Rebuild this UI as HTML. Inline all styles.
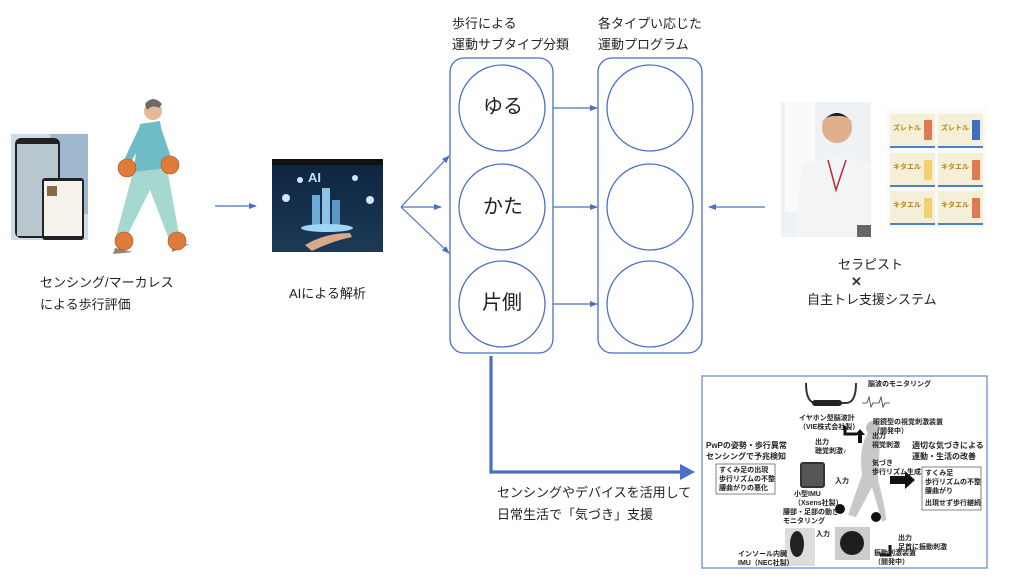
<!DOCTYPE html>
<html><head><meta charset="utf-8"><style>
html,body{margin:0;padding:0;background:#fff;}
body{width:1024px;height:580px;position:relative;overflow:hidden;font-family:"Liberation Sans","Noto Sans CJK JP",sans-serif;color:#222;}
.t{position:absolute;font-size:13px;line-height:22px;white-space:nowrap;}
.s{position:absolute;font-size:7px;line-height:9px;white-space:nowrap;font-weight:bold;color:#222;}
</style></head><body>
<svg width="1024" height="580" style="position:absolute;left:0;top:0">
<defs>
<marker id="a" markerWidth="8" markerHeight="8" refX="7" refY="4" orient="auto" markerUnits="userSpaceOnUse"><path d="M0,1 L8,4 L0,7z" fill="#4a6fc4"/></marker>
<linearGradient id="ai" x1="0" y1="0" x2="0" y2="1"><stop offset="0" stop-color="#0d2440"/><stop offset="1" stop-color="#1c3a56"/></linearGradient>
</defs>
<!-- left phone images -->
<rect x="11" y="134" width="77" height="106" fill="#cfdbe6"/>
<rect x="50" y="134" width="38" height="80" fill="#9fb8cf"/>
<rect x="15" y="138" width="45" height="100" rx="6" fill="#222"/>
<rect x="17" y="144" width="41" height="92" fill="#b8c7cf"/>
<rect x="42" y="178" width="42" height="62" rx="3" fill="#222"/>
<rect x="44" y="181" width="38" height="55" fill="#f4f2ea"/>
<rect x="47" y="186" width="10" height="10" fill="#8a6a40"/>
<!-- walking figure -->
<circle cx="153" cy="111" r="9" fill="#e6b897"/>
<path d="M145,104 q8,-10 17,0 l-3,4 q-6,-4 -12,2z" fill="#6d6a66"/>
<path d="M140,124 L160,121 L168,170 L133,175z" fill="#6ebdc6"/>
<path d="M140,126 L124,160 L131,162 L146,135z" fill="#6ebdc6"/>
<path d="M160,125 L172,160 L166,162 L156,135z" fill="#6ebdc6"/>
<path d="M133,172 L167,168 L180,240 L170,242 L150,190 L125,240 L116,236z" fill="#a6d8d2"/>
<path d="M115,248 l18,4 l-20,2z M172,246 l18,-2 l-18,8z" fill="#8e8478"/>
<circle cx="127" cy="168" r="9" fill="#e07b3c" stroke="#a85520" stroke-width="0.6"/>
<circle cx="170" cy="165" r="9" fill="#e07b3c" stroke="#a85520" stroke-width="0.6"/>
<circle cx="124" cy="241" r="9" fill="#e07b3c" stroke="#a85520" stroke-width="0.6"/>
<circle cx="177" cy="241" r="9" fill="#e07b3c" stroke="#a85520" stroke-width="0.6"/>
<!-- AI image -->
<rect x="272" y="159" width="111" height="93" fill="url(#ai)"/>
<rect x="272" y="159" width="111" height="6" fill="#111"/>
<text x="308" y="182" font-size="13" font-weight="bold" fill="#bfe0ff" font-family="Liberation Sans">AI</text>
<rect x="312" y="195" width="8" height="30" fill="#6fa9d6"/><rect x="322" y="188" width="8" height="37" fill="#8fc2e6"/><rect x="332" y="200" width="8" height="25" fill="#5d95c8"/>
<ellipse cx="327" cy="228" rx="26" ry="4" fill="#9fd4f5"/>
<path d="M305,245 q20,-12 45,-12 l2,4 q-20,4 -40,14z" fill="#d8a888"/>
<circle cx="286" cy="198" r="4" fill="#cfe6f7"/><circle cx="370" cy="200" r="4" fill="#cfe6f7"/><circle cx="300" cy="180" r="3" fill="#cfe6f7"/><circle cx="355" cy="178" r="3" fill="#cfe6f7"/>
<!-- therapist photo -->
<rect x="781" y="102" width="90" height="135" fill="#eef2f4"/>
<rect x="785" y="102" width="30" height="110" fill="#f8fafb"/>
<path d="M795,237 L802,165 Q840,148 870,165 L870,237z" fill="#f2f4f6"/>
<circle cx="837" cy="128" r="15" fill="#e0b08c"/>
<path d="M821,124 q16,-22 32,0 q-5,-9 -16,-8 q-11,-1 -16,8z" fill="#1c1c1c"/>
<path d="M828,160 L836,190 L846,160" stroke="#b52e3a" stroke-width="1.5" fill="none"/>
<rect x="857" y="225" width="14" height="12" fill="#666"/>
<!-- app screenshot -->
<rect x="887" y="108" width="99" height="120" fill="#fafaf6"/>
<g fill="#f6efd8">
<rect x="890" y="114" width="45" height="32"/><rect x="938" y="114" width="45" height="32"/>
<rect x="890" y="153" width="45" height="32"/><rect x="938" y="153" width="45" height="32"/>
<rect x="890" y="191" width="45" height="32"/><rect x="938" y="191" width="45" height="32"/>
</g>
<g fill="#4a80cc"><rect x="890" y="146" width="45" height="2"/><rect x="938" y="146" width="45" height="2"/><rect x="890" y="185" width="45" height="2"/><rect x="938" y="185" width="45" height="2"/><rect x="890" y="223" width="45" height="2"/><rect x="938" y="223" width="45" height="2"/></g>
<g fill="#e07a55"><rect x="924" y="120" width="8" height="20"/><rect x="972" y="120" width="8" height="20" fill="#3d6fc0"/><rect x="924" y="160" width="8" height="20" fill="#f0d070"/><rect x="972" y="160" width="8" height="20"/><rect x="924" y="198" width="8" height="20" fill="#f0d070"/><rect x="972" y="198" width="8" height="20"/></g>
<g fill="#b0841e" font-size="7" font-weight="bold" font-family="Noto Sans CJK JP"><text x="893" y="130">ズレトル</text><text x="941" y="130">ズレトル</text><text x="893" y="169">キタエル</text><text x="941" y="169">キタエル</text><text x="893" y="207">キタエル</text><text x="941" y="207">キタエル</text></g>
<!-- arrows -->
<g stroke="#4a6fc4" stroke-width="1.2" fill="none">
<line x1="215" y1="206" x2="256" y2="206" marker-end="url(#a)"/>
<line x1="401" y1="207" x2="449" y2="156" marker-end="url(#a)"/>
<line x1="401" y1="207" x2="441" y2="207" marker-end="url(#a)"/>
<line x1="401" y1="207" x2="449" y2="253" marker-end="url(#a)"/>
<line x1="553" y1="108" x2="597" y2="108" marker-end="url(#a)"/>
<line x1="553" y1="207" x2="597" y2="207" marker-end="url(#a)"/>
<line x1="553" y1="304" x2="597" y2="304" marker-end="url(#a)"/>
<line x1="765" y1="207" x2="709" y2="207" marker-end="url(#a)"/>
</g>
<g stroke="#4a6fc4" stroke-width="1.3" fill="none">
<rect x="450" y="58" width="103" height="295" rx="14"/>
<rect x="598" y="58" width="104" height="295" rx="14"/>
<circle cx="502" cy="108" r="43"/><circle cx="502" cy="207" r="43"/><circle cx="502" cy="304" r="43"/>
<circle cx="650" cy="108" r="43"/><circle cx="650" cy="207" r="43"/><circle cx="650" cy="304" r="43"/>
</g>
<path d="M491,356 L491,472 L682,472" stroke="#4a6fc4" stroke-width="3.2" fill="none"/>
<path d="M680,464 L695,472 L680,480z" fill="#4a6fc4"/>
<!-- bottom right box -->
<rect x="702" y="376" width="285" height="192" fill="#fff" stroke="#6a8fd6" stroke-width="1.3"/>
<path d="M806,383 q0,20 10,20 l30,0 q10,0 10,-20" stroke="#333" stroke-width="2" fill="none"/>
<rect x="812" y="400" width="30" height="6" rx="3" fill="#222"/>
<path d="M862,403 l5,0 l2,-6 l2,10 l2,-4 l6,0 l2,-6 l2,10 l2,-4 l5,0" stroke="#333" stroke-width="0.8" fill="none"/>
<path d="M870,430 q8,-4 10,10 l-2,40 q8,30 8,40 l-4,2 l-10,-35 l-16,30 l-8,-2 l14,-40 q-4,-30 8,-45z" fill="#c8c8c8"/>
<circle cx="873" cy="428" r="7" fill="#c0c0c0"/>
<circle cx="840" cy="509" r="5" fill="#111"/><circle cx="876" cy="517" r="5" fill="#111"/>
<rect x="800" y="462" width="25" height="26" rx="3" fill="#333"/>
<rect x="802" y="464" width="21" height="22" fill="#555"/>
<rect x="785" y="528" width="30" height="38" fill="#ddd"/>
<ellipse cx="797" cy="544" rx="7" ry="13" fill="#222"/>
<rect x="835" y="527" width="35" height="33" fill="#ccc"/>
<circle cx="852" cy="543" r="12" fill="#1e1e1e"/>
<path d="M890,476 l15,0 l0,-5 l10,9 l-10,9 l0,-5 l-15,0z" fill="#111"/>
<path d="M858,443 l4,0 l0,-8 l3,0 l-5,-6 l-5,6 l3,0z" fill="#111"/>
<path d="M845,426 l0,8 l12,0" stroke="#111" stroke-width="3" fill="none"/>
<path d="M880,555 l10,0 l0,-10" stroke="#111" stroke-width="3" fill="none"/>
<rect x="716" y="464" width="59" height="30" fill="none" stroke="#333" stroke-width="0.6"/>
<rect x="922" y="467" width="59" height="43" fill="none" stroke="#333" stroke-width="0.6"/>
</svg>

<div class="t" style="left:40px;top:272px;">センシング/マーカレス<br>による歩行評価</div>
<div class="t" style="left:289px;top:283px;">AIによる解析</div>
<div class="t" style="left:452px;top:13px;line-height:21px;">歩行による<br>運動サブタイプ分類</div>
<div class="t" style="left:598px;top:13px;line-height:21px;">各タイプい応じた<br>運動プログラム</div>
<div class="t" style="left:483px;top:96px;font-size:20px;">ゆる</div>
<div class="t" style="left:483px;top:196px;font-size:20px;">かた</div>
<div class="t" style="left:482px;top:292px;font-size:20px;">片側</div>
<div class="t" style="left:838px;top:254px;">セラピスト</div>
<div class="t" style="left:851px;top:271px;color:#333;font-weight:bold;">✕</div>
<div class="t" style="left:807px;top:289px;">自主トレ支援システム</div>
<div class="t" style="left:497px;top:482px;line-height:22px;">センシングやデバイスを活用して<br>日常生活で「気づき」支援</div>

<div class="s" style="left:868px;top:380px;">脳波のモニタリング</div>
<div class="s" style="left:799px;top:414px;">イヤホン型脳波計<br>（VIE株式会社製）</div>
<div class="s" style="left:873px;top:418px;">眼鏡型の視覚刺激装置<br>（開発中）</div>
<div class="s" style="left:872px;top:432px;">出力<br>視覚刺激</div>
<div class="s" style="left:706px;top:440px;font-size:8px;line-height:11px;">PwPの姿勢・歩行異常<br>センシングで予兆検知</div>
<div class="s" style="left:815px;top:438px;">出力<br>聴覚刺激♪</div>
<div class="s" style="left:912px;top:440px;font-size:8px;line-height:11px;">適切な気づきによる<br>運動・生活の改善</div>
<div class="s" style="left:719px;top:466px;">すくみ足の出現<br>歩行リズムの不整<br>腰曲がりの悪化</div>
<div class="s" style="left:872px;top:459px;">気づき<br>歩行リズム生成</div>
<div class="s" style="left:925px;top:469px;">すくみ足<br>歩行リズムの不整<br>腰曲がり</div>
<div class="s" style="left:925px;top:499px;">出現せず歩行継続</div>
<div class="s" style="left:835px;top:477px;">入力</div>
<div class="s" style="left:794px;top:490px;">小型IMU<br>（Xsens社製）</div>
<div class="s" style="left:783px;top:508px;">腰部・足部の動き<br>モニタリング</div>
<div class="s" style="left:816px;top:530px;">入力</div>
<div class="s" style="left:898px;top:534px;">出力<br>足首に振動刺激</div>
<div class="s" style="left:738px;top:550px;">インソール内臓<br>IMU（NEC社製）</div>
<div class="s" style="left:874px;top:549px;">振動刺激装置<br>（開発中）</div>
</body></html>
